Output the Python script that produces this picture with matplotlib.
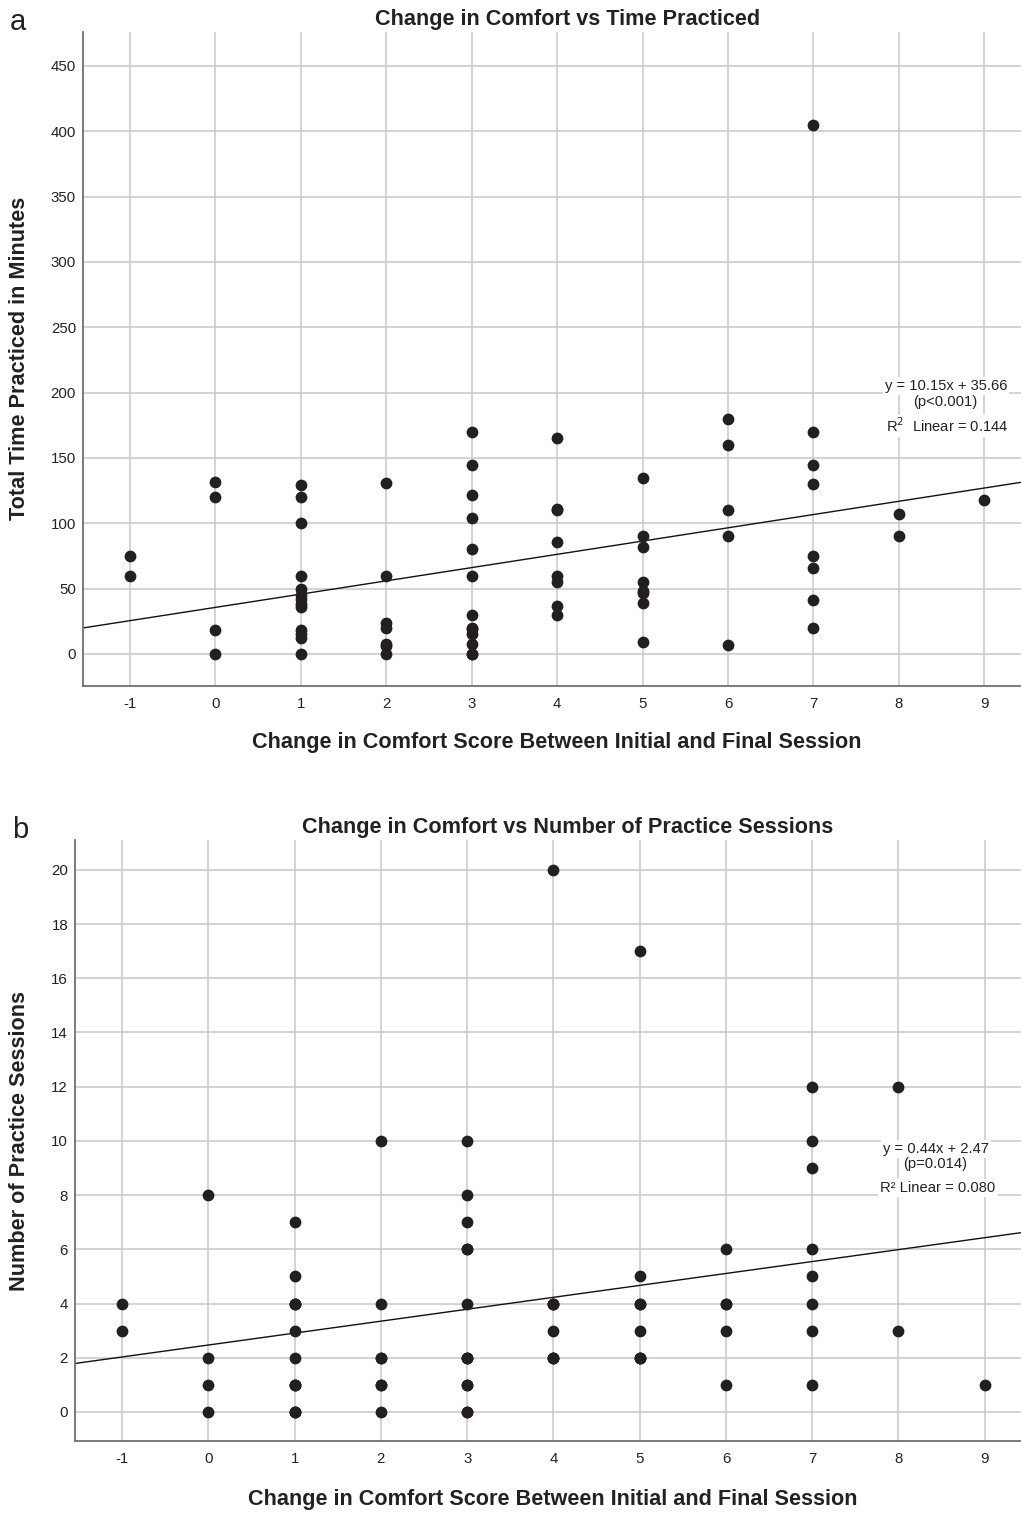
import matplotlib
matplotlib.use("Agg")
import matplotlib.pyplot as plt
import numpy as np

plt.rcParams['font.family'] = ['Liberation Sans', 'DejaVu Sans']
plt.rcParams['axes.unicode_minus'] = False

# ---------------- data: panel a (time practiced) ----------------
a_x = ([-1]*2 + [0]*4 + [1]*13 + [2]*7 + [3]*13 + [4]*8 + [5]*8 +
       [6]*5 + [7]*8 + [8]*2 + [9]*1)
a_y = [75, 60,
       132, 120, 18, 0,
       129, 120, 100, 60, 50, 45, 42, 38, 36, 18, 15, 12, 0,
       131, 60, 24, 20, 8, 6, 0,
       170, 145, 122, 104, 80, 60, 30, 20, 19, 15, 8, 0, 0,
       165, 111, 110, 86, 60, 55, 37, 30,
       135, 90, 82, 55, 48, 47, 39, 9,
       180, 160, 110, 90, 7,
       405, 170, 145, 130, 75, 66, 41, 20,
       107, 90,
       118]
a_slope, a_intercept = 10.15, 35.66
a_eq = ["y = 10.15x + 35.66", "(p<0.001)", "R$^2$  Linear = 0.144"]

# ---------------- data: panel b (number of sessions) ----------------
b_x = ([-1]*2 + [0]*4 + [1]*13 + [2]*7 + [3]*13 + [4]*8 + [5]*8 +
       [6]*5 + [7]*8 + [8]*2 + [9]*1)
b_y = [4, 3,
       8, 2, 1, 0,
       7, 5, 4, 4, 4, 3, 2, 1, 1, 1, 0, 0, 0,
       10, 4, 2, 2, 1, 1, 0,
       10, 8, 7, 6, 6, 4, 2, 2, 2, 1, 1, 0, 0,
       20, 4, 4, 4, 3, 2, 2, 2,
       17, 5, 4, 4, 3, 2, 2, 2,
       6, 4, 4, 3, 1,
       12, 10, 9, 6, 5, 4, 3, 1,
       12, 3,
       1]
b_slope, b_intercept = 0.44, 2.47
b_eq = ["y = 0.44x + 2.47", "(p=0.014)", "R² Linear = 0.080"]

x_ticks = list(range(-1, 10))
a_yticks = list(range(0, 451, 50))
b_yticks = list(range(0, 21, 2))

W, H = 1021, 1513
fig = plt.figure(figsize=(W/100, H/100), dpi=100)

def px_axes(l, t, r, b):
    return fig.add_axes([l/W, 1-b/H, (r-l)/W, (b-t)/H])

def style(ax, xlim, ylim, yticks):
    ax.set_xlim(*xlim)
    ax.set_ylim(*ylim)
    ax.set_xticks(x_ticks)
    ax.set_yticks(yticks)
    ax.grid(True, color='#c8c8c8', linewidth=1.1)
    ax.set_axisbelow(True)
    for s in ['top', 'right']:
        ax.spines[s].set_visible(False)
    for s in ['left', 'bottom']:
        ax.spines[s].set_color('#707070')
        ax.spines[s].set_linewidth(1.3)
    ax.tick_params(length=0, labelsize=10.8, colors='#222222')
    ax.tick_params(axis='y', pad=5)
    ax.tick_params(axis='x', pad=8)

def figtext(x, y, s, **kw):
    fig.text(x/W, 1-y/H, s, **kw)

LBL = 15.6

# ---------------- panel a ----------------
axa = px_axes(83, 32, 1021, 686)
style(axa, (-1.55, 9.43), (-24.5, 476), a_yticks)
axa.scatter(a_x, a_y, s=72, color='#231f20', zorder=3, linewidths=0)
xx = np.array(axa.get_xlim())
axa.plot(xx, a_slope*xx + a_intercept, color='#111111', linewidth=1.0, zorder=2)

bb = dict(facecolor='white', edgecolor='none', pad=1.5)
for (cx, cy), s in zip([(946, 386), (945, 402), (947, 426)], a_eq):
    figtext(cx, cy, s, ha='center', va='center', fontsize=10.6, color='#222222', bbox=bb)

figtext(568, 20, "Change in Comfort vs Time Practiced", ha='center', va='center',
        fontsize=LBL, fontweight='bold', color='#222222')
figtext(557, 743, "Change in Comfort Score Between Initial and Final Session",
        ha='center', va='center', fontsize=LBL, fontweight='bold', color='#222222')
figtext(20, 358, "Total Time Practiced in Minutes", ha='center', va='center',
        rotation=90, fontsize=LBL, fontweight='bold', color='#222222')
figtext(18, 22, "a", ha='center', va='center', fontsize=21, color='#222222')

# ---------------- panel b ----------------
axb = px_axes(75, 840, 1021, 1441)
style(axb, (-1.545, 9.42), (-1.07, 21.1), b_yticks)
axb.scatter(b_x, b_y, s=72, color='#231f20', zorder=3, linewidths=0)
xx = np.array(axb.get_xlim())
axb.plot(xx, b_slope*xx + b_intercept, color='#111111', linewidth=1.0, zorder=2)

for (cx, cy), s in zip([(936, 1149), (935, 1164), (938, 1188)], b_eq):
    figtext(cx, cy, s, ha='center', va='center', fontsize=10.6, color='#222222', bbox=bb)

figtext(568, 828, "Change in Comfort vs Number of Practice Sessions", ha='center',
        va='center', fontsize=LBL, fontweight='bold', color='#222222')
figtext(553, 1499, "Change in Comfort Score Between Initial and Final Session",
        ha='center', va='center', fontsize=LBL, fontweight='bold', color='#222222')
figtext(20, 1141, "Number of Practice Sessions", ha='center', va='center',
        rotation=90, fontsize=LBL, fontweight='bold', color='#222222')
figtext(20, 830, "b", ha='center', va='center', fontsize=21, color='#222222')

fig.savefig("out.png", dpi=100)
